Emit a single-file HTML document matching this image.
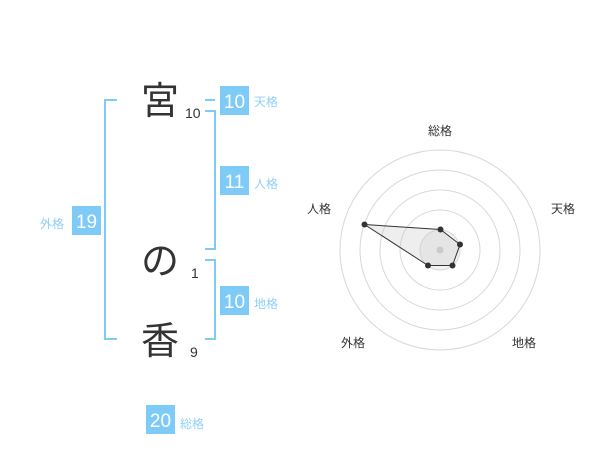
<!DOCTYPE html>
<html><head><meta charset="utf-8"><style>
body{margin:0;width:600px;height:470px;background:#fff;overflow:hidden;font-family:"Liberation Sans","Noto Sans CJK JP",sans-serif}
</style></head><body>
<svg width="600" height="470" xmlns="http://www.w3.org/2000/svg" style="position:absolute;left:0;top:0">
<g fill="none" stroke="#7fcbf7" stroke-width="2">
<path d="M117 100H105V339H117"/>
<path d="M205 100H215"/>
<path d="M205 111H215V249H205"/>
<path d="M205 260H215V339H205"/>
</g>
<g fill="#7fcbf7">
<rect x="220" y="86" width="29" height="29"/>
<rect x="220" y="166" width="29" height="29"/>
<rect x="220" y="286" width="29" height="29"/>
<rect x="72" y="206" width="29" height="29"/>
<rect x="146" y="405" width="29" height="29"/>
</g>
<g fill="#fff" font-size="19" text-anchor="middle" font-family="Liberation Sans,sans-serif">
<text x="234.5" y="108">10</text>
<text x="234.5" y="188">11</text>
<text x="234.5" y="308">10</text>
<text x="86.5" y="228">19</text>
<text x="160.5" y="427">20</text>
</g>
<g fill="#8fd0f5" font-size="12" font-family="Liberation Sans,Noto Sans CJK JP,sans-serif">
<text x="254" y="106">天格</text>
<text x="254" y="188">人格</text>
<text x="254" y="308">地格</text>
<text x="40" y="228">外格</text>
<text x="180" y="428">総格</text>
</g>
<g fill="#333" font-size="38" text-anchor="middle" font-family="Noto Sans CJK JP,sans-serif">
<text x="160" y="114">宮</text>
<text x="160" y="274">の</text>
<text x="160" y="354">香</text>
</g>
<g fill="#333" font-size="14" font-family="Liberation Sans,sans-serif">
<text x="185" y="118">10</text>
<text x="191" y="278">1</text>
<text x="190" y="357">9</text>
</g>
<g fill="none" stroke="#d8d8d8" stroke-width="1">
<circle cx="440" cy="250" r="20" fill="#f3f3f3"/>
<circle cx="440" cy="250" r="40"/>
<circle cx="440" cy="250" r="60"/>
<circle cx="440" cy="250" r="80"/>
<circle cx="440" cy="250" r="100"/>
</g>
<circle cx="440" cy="250" r="3.5" fill="#ccc"/>
<polygon points="440.5,229.5 460,244.5 452.5,265.5 428,265.5 364.5,224.5" fill="rgba(200,200,200,0.3)" stroke="#333" stroke-width="1"/>
<g fill="#333">
<circle cx="440.5" cy="229.5" r="3"/>
<circle cx="460" cy="244.5" r="3"/>
<circle cx="452.5" cy="265.5" r="3"/>
<circle cx="428" cy="265.5" r="3"/>
<circle cx="364.5" cy="224.5" r="3"/>
</g>
<g fill="#333" font-size="12" text-anchor="middle" font-family="Liberation Sans,Noto Sans CJK JP,sans-serif">
<text x="440" y="135">総格</text>
<text x="563" y="213">天格</text>
<text x="524" y="347">地格</text>
<text x="353" y="347">外格</text>
<text x="319" y="213">人格</text>
</g>
</svg>
</body></html>
